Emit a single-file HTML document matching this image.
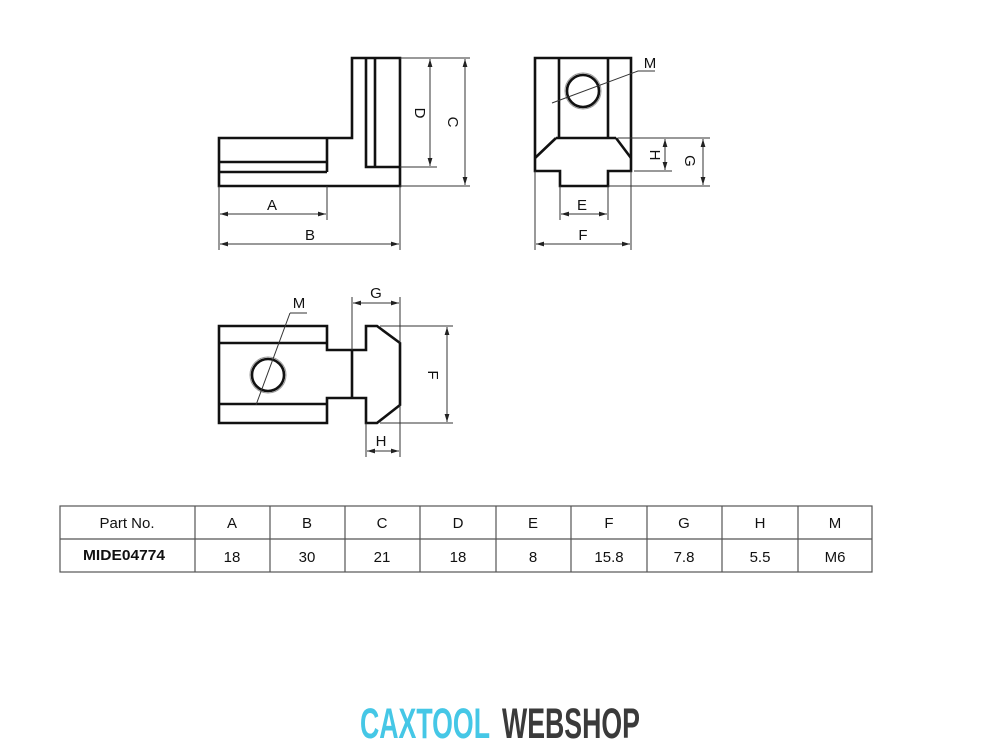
<!DOCTYPE html>
<html><head><meta charset="utf-8"><style>
html,body{margin:0;padding:0;background:#fff;}
svg{display:block;}
text{font-family:"Liberation Sans",sans-serif;fill:#111;}
</style></head><body>
<svg width="1000" height="750" viewBox="0 0 1000 750" xmlns="http://www.w3.org/2000/svg">
<defs>
<marker id="ar" viewBox="0 0 10 6" refX="10" refY="3" markerWidth="8" markerHeight="5" orient="auto-start-reverse" markerUnits="userSpaceOnUse">
<path d="M0,0 L10,3 L0,6 Z" fill="#222"/></marker>
</defs>
<g fill="none" stroke="#111" stroke-width="2.6" stroke-linejoin="miter">
<path d="M219,138 H352 V58 H400 V186 H219 Z"/>
<path d="M327,138 V172 M219,162 H327 M219,172 H327 M366,58 V167 H400 M375,58 V167"/>
<path d="M535,58 H631 V171 H608 V186 H560 V171 H535 Z"/>
<path d="M559,58 V138 M608,58 V138 M556,138 H616 M535,158 L556,138 M616,138 L631,158"/>
<circle cx="583" cy="91" r="16"/>
<path d="M219,326 H327 V350 H366 V326 H377 L400,343 V405 L377,423 H366 V398 H327 V423 H219 Z"/>
<path d="M352,350 V398 M219,343 H327 M219,404 H327"/>
<circle cx="268" cy="375" r="16"/>
</g>
<g fill="none" stroke="#999" stroke-width="1">
<circle cx="583" cy="91" r="18"/>
<circle cx="268" cy="375" r="18"/>
</g>
<g fill="none" stroke="#333" stroke-width="1">
<path d="M400,58 H470 M400,167 H437 M400,186 H470 M219,186 V250 M400,186 V250 M327,186 V220"/>
<line x1="430" y1="59" x2="430" y2="166" marker-start="url(#ar)" marker-end="url(#ar)"/>
<line x1="465" y1="59" x2="465" y2="185" marker-start="url(#ar)" marker-end="url(#ar)"/>
<line x1="220" y1="214" x2="326" y2="214" marker-start="url(#ar)" marker-end="url(#ar)"/>
<line x1="220" y1="244" x2="399" y2="244" marker-start="url(#ar)" marker-end="url(#ar)"/>
<path d="M618,138 H710 M634,171 H672 M608,186 H710 M560,186 V220 M608,186 V220 M535,171 V250 M631,171 V250 M552,103 L638,71 H655"/>
<line x1="665" y1="139" x2="665" y2="170" marker-start="url(#ar)" marker-end="url(#ar)"/>
<line x1="703" y1="139" x2="703" y2="185" marker-start="url(#ar)" marker-end="url(#ar)"/>
<line x1="561" y1="214" x2="607" y2="214" marker-start="url(#ar)" marker-end="url(#ar)"/>
<line x1="536" y1="244" x2="630" y2="244" marker-start="url(#ar)" marker-end="url(#ar)"/>
<path d="M352,297 V350 M400,297 V343 M380,326 H453 M380,423 H453 M366,423 V457 M400,405 V457 M290,313 H307"/>
<line x1="256" y1="405" x2="290" y2="313"/>
<line x1="353" y1="303" x2="399" y2="303" marker-start="url(#ar)" marker-end="url(#ar)"/>
<line x1="447" y1="327" x2="447" y2="422" marker-start="url(#ar)" marker-end="url(#ar)"/>
<line x1="367" y1="451" x2="399" y2="451" marker-start="url(#ar)" marker-end="url(#ar)"/>
</g>
<g font-size="15" text-anchor="middle">
<text x="272" y="210">A</text>
<text x="310" y="240">B</text>
<text transform="translate(415,113) rotate(90)">D</text>
<text transform="translate(448,122) rotate(90)">C</text>
<text x="650" y="68">M</text>
<text transform="translate(650,155) rotate(90)">H</text>
<text transform="translate(685,161) rotate(90)">G</text>
<text x="582" y="210">E</text>
<text x="583" y="240">F</text>
<text x="299" y="308">M</text>
<text x="376" y="298">G</text>
<text transform="translate(428,375) rotate(90)">F</text>
<text x="381" y="446">H</text>
</g>
<g fill="none" stroke="#555" stroke-width="1.2">
<rect x="60" y="506" width="812" height="66"/>
<path d="M60,539 H872 M195,506 V572 M270,506 V572 M345,506 V572 M420,506 V572 M496,506 V572 M571,506 V572 M647,506 V572 M722,506 V572 M798,506 V572"/>
</g>
<g font-size="15" text-anchor="middle">
<text x="127" y="528">Part No.</text>
<text x="232" y="528">A</text><text x="307" y="528">B</text><text x="382" y="528">C</text>
<text x="458" y="528">D</text><text x="533" y="528">E</text><text x="609" y="528">F</text>
<text x="684" y="528">G</text><text x="760" y="528">H</text><text x="835" y="528">M</text>
<text x="232" y="562">18</text><text x="307" y="562">30</text><text x="382" y="562">21</text>
<text x="458" y="562">18</text><text x="533" y="562">8</text><text x="609" y="562">15.8</text>
<text x="684" y="562">7.8</text><text x="760" y="562">5.5</text><text x="835" y="562">M6</text>
</g>
<text x="83" y="560" font-weight="bold" font-size="15" textLength="82" lengthAdjust="spacingAndGlyphs">MIDE04774</text>
<text x="360" y="738" font-size="43" font-weight="bold" textLength="130" lengthAdjust="spacingAndGlyphs" style="fill:#45c7e6">CAXTOOL</text>
<text x="502" y="738" font-size="43" font-weight="bold" textLength="138" lengthAdjust="spacingAndGlyphs" style="fill:#3a3a3a">WEBSHOP</text>
</svg>
</body></html>
